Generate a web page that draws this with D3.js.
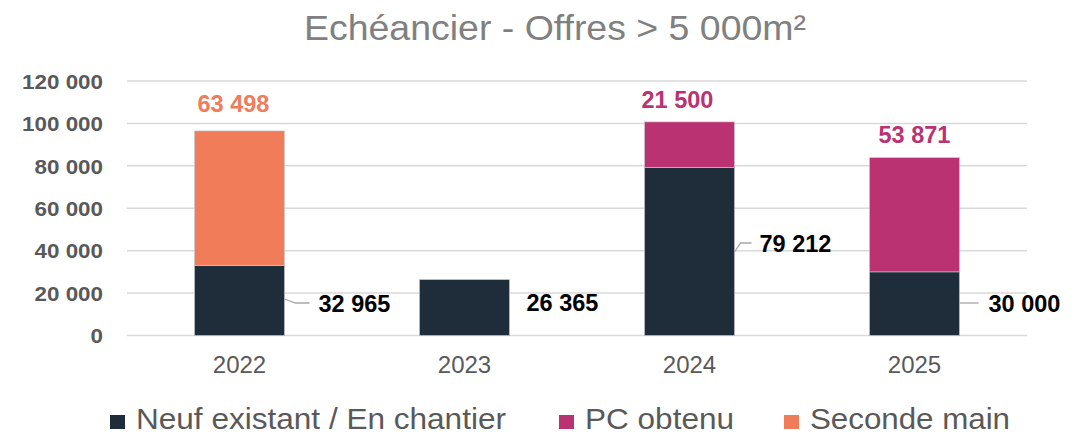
<!DOCTYPE html>
<html><head><meta charset="utf-8">
<script src="https://cdn.jsdelivr.net/npm/d3@7"></script>
<style>body{margin:0;background:#fff;} svg{display:block;font-family:"Liberation Sans",Arial,sans-serif;}</style>
</head><body><svg id="c" width="1076" height="435"></svg>
<script>
const categories = ["2022","2023","2024","2025"];
const neuf = [32965, 26365, 79212, 30000];
const pc = [0, 0, 21500, 53871];
const seconde = [63498, 0, 0, 0];
const yTicks = [0,20000,40000,60000,80000,100000,120000];
const seriesNames = ["Neuf existant / En chantier","PC obtenu","Seconde main"];
const colors = ["#1F2D3A","#BA3272","#F07C5A"];

const svg = d3.select("#c");
const m = {l:127, r:1027, t:81, b:335.5};
const x = d3.scaleBand().domain(categories).range([m.l, m.r]).paddingInner(0.6).paddingOuter(0.3);
const y = d3.scaleLinear().domain([0,120000]).range([m.b, m.t]);
const fmt = v => d3.format(",")(v).replace(/,/g," ");
function stretch(sel, k){
  sel.each(function(){ const L=this.getComputedTextLength(); d3.select(this).attr("textLength",L*k).attr("lengthAdjust","spacingAndGlyphs"); });
}

const title = svg.append("text").attr("x",555).attr("y",40).attr("text-anchor","middle")
  .attr("font-size",35).attr("fill","#808080").text("Echéancier - Offres > 5 000m²");
stretch(title, 1.07);

// grid
svg.append("g").selectAll("line").data(yTicks).join("line")
  .attr("x1",m.l).attr("x2",m.r).attr("y1",d=>y(d)).attr("y2",d=>y(d))
  .attr("stroke","#D9D9D9").attr("stroke-width",1.5);

// y axis labels
const yAxis = d3.axisLeft(y).tickValues(yTicks).tickFormat(fmt).tickSize(0).tickPadding(0);
const ya = svg.append("g").attr("transform","translate(103,0)").call(yAxis);
ya.select(".domain").remove();
ya.selectAll("text").attr("font-size",20).attr("font-weight","bold").attr("fill","#595959")
  .attr("font-family","Liberation Sans, Arial, sans-serif").attr("dy","0.36em");
stretch(ya.selectAll("text"), 1.12);

// x axis labels
const xAxis = d3.axisBottom(x).tickSize(0).tickPadding(0);
const xa = svg.append("g").attr("transform",`translate(0,${m.b})`).call(xAxis);
xa.select(".domain").remove();
xa.selectAll("text").attr("font-size",24).attr("fill","#595959").attr("y",37).attr("dy",0)
  .attr("font-family","Liberation Sans, Arial, sans-serif");

// stacked bars
const rows = categories.map((c,i)=>({cat:c, neuf:neuf[i], pc:pc[i], seconde:seconde[i]}));
const stack = d3.stack().keys(["neuf","pc","seconde"])(rows);
svg.append("g").selectAll("g").data(stack).join("g").attr("fill",(d,i)=>colors[i])
  .selectAll("rect").data(d=>d.filter(p=>p[1]>p[0])).join("rect")
  .attr("x",d=>x(d.data.cat)).attr("width",x.bandwidth())
  .attr("y",d=>y(d[1])).attr("height",d=>y(d[0])-y(d[1]))
  .attr("stroke","#c8ccd0").attr("stroke-width",0.6);

// bottom labels with leader lines (layout offsets)
const lab = svg.append("g");
const bLayout = [
  {tx:34, by:312, pts:[[0,299],[11,303],[25,303]]},
  {tx:17, by:311, pts:null},
  {tx:25, by:252, pts:[[0,252],[6,243],[17,243]]},
  {tx:29, by:312, pts:[[0,303],[19,303]]}
];
categories.forEach((c,i)=>{
  const bx = x(c)+x.bandwidth();
  const L = bLayout[i];
  if(L.pts){
    lab.append("path").attr("d",d3.line()(L.pts.map(p=>[bx+p[0],p[1]]))).attr("fill","none")
      .attr("stroke","#A6A6A6").attr("stroke-width",1.3);
  }
  lab.append("text").attr("x",bx+L.tx).attr("y",L.by)
    .attr("font-size",23.5).attr("font-weight","bold").attr("fill","#000").text(fmt(neuf[i]));
});

// top labels
const tLayout = [{dx:-6,dy:-19},{dx:0,dy:-15},{dx:-12,dy:-14},{dx:0,dy:-15}];
categories.forEach((c,i)=>{
  const tot = neuf[i]+pc[i]+seconde[i];
  let v=null, col=null;
  if(seconde[i]>0){v=seconde[i]; col=colors[2];}
  else if(pc[i]>0){v=pc[i]; col=colors[1];}
  if(v===null) return;
  const cx = x(c)+x.bandwidth()/2 + tLayout[i].dx;
  lab.append("text").attr("x",cx).attr("y",y(tot)+tLayout[i].dy).attr("text-anchor","middle")
    .attr("font-size",23.5).attr("font-weight","bold").attr("fill",col).text(fmt(v));
});

// legend
const legX = [110, 559, 784];
const legW = [370, 149, 200];
const lg = svg.append("g");
seriesNames.forEach((n,i)=>{
  lg.append("rect").attr("x",legX[i]).attr("y",415).attr("width",15).attr("height",14).attr("fill",colors[i]);
  lg.append("text").attr("x",legX[i]+26).attr("y",429).attr("font-size",29).attr("fill","#595959")
    .attr("textLength",legW[i]).attr("lengthAdjust","spacingAndGlyphs").text(n);
});
</script></body></html>
